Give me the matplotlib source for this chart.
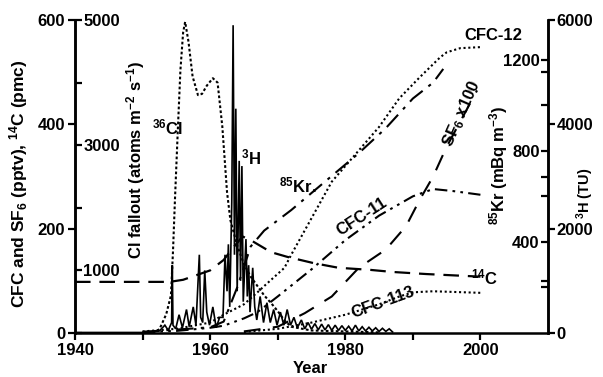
import matplotlib
matplotlib.use("Agg")
import matplotlib.pyplot as plt
from matplotlib.ticker import FixedLocator, NullFormatter

plt.rcParams['font.family'] = ['Liberation Sans', 'DejaVu Sans']
plt.rcParams['font.weight'] = 'bold'
plt.rcParams['mathtext.default'] = 'regular'

# ---------------- data ----------------
# 14C (pmc), left axis
c14_year = [1940, 1954, 1956, 1958, 1960, 1962, 1963.5, 1964.8, 1966, 1969, 1971.4, 1975.3, 1979, 1983.7, 1987, 1992, 2000]
c14_val = [98, 98, 102, 111, 120, 140, 165, 185, 178, 155, 146, 134, 125, 121, 117, 113, 108]

# CFC-12 (pptv)
cfc12_year = [1950, 1955, 1960, 1962, 1965, 1967, 1968, 1971, 1972, 1975, 1978, 1980, 1982, 1985, 1988, 1991, 1994, 1995, 1997, 2000]
cfc12_val = [3, 8, 20, 35, 55, 78, 90, 125, 150, 220, 290, 320, 350, 395, 450, 490, 528, 538, 546, 548]

# CFC-11 (pptv)
cfc11_year = [1950, 1955, 1960, 1962, 1965, 1967, 1970, 1975, 1980, 1985, 1990, 1993, 1996, 2000]
cfc11_val = [2, 4, 10, 14, 28, 40, 70, 122, 178, 225, 262, 276, 272, 265]

# CFC-113 (pptv)
cfc113_year = [1965, 1970, 1975, 1980, 1985, 1988, 1990, 1993, 2000]
cfc113_val = [2, 8, 20, 35, 55, 70, 78, 80, 77]

# SF6 x100 (pptv)
sf6_year = [1965, 1970, 1974, 1978, 1982, 1986, 1989, 1991, 1993, 1995, 1997, 1999.5]
sf6_val = [3, 12, 38, 70, 125, 160, 205, 255, 300, 357, 405, 465]

# 36Cl fallout (atoms m-2 s-1)
cl_year = [1950, 1951.5, 1952.5, 1953.5, 1954.2, 1954.5, 1954.8, 1955.2, 1955.6, 1956.0, 1956.3, 1956.8,
           1957.4, 1958.2, 1958.8, 1959.5, 1960.4, 1961.1, 1961.8, 1962.5, 1963.0, 1964.0, 1965.0,
           1966.0, 1967.0, 1968.0, 1969.0, 1970.0, 1971.0, 1972.0, 1975.0, 1985.0]
cl_val = [0, 0, 60, 300, 600, 1300, 2150, 3200, 4200, 4800, 4970, 4650,
          4100, 3800, 3820, 3950, 4070, 4000, 3300, 2250, 1800, 1400, 1100,
          900, 750, 600, 480, 350, 200, 100, 40, 10]

# 85Kr (mBq m-3)
kr_year = [1950, 1955, 1960, 1962, 1964, 1966, 1968, 1972, 1976, 1978, 1982, 1986, 1990, 1993, 1994.5]
kr_val = [5, 15, 25, 50, 200, 380, 450, 540, 640, 690, 790, 900, 1030, 1100, 1160]

# 3H in precipitation (TU)
h3_year = [1940, 1950.0, 1951.0, 1952.5, 1953.3, 1953.8, 1954.3, 1954.4, 1954.5, 1954.9, 1955.4, 1955.9,
           1956.5, 1956.9, 1957.5, 1957.9, 1958.4, 1958.6, 1958.9, 1959.2, 1959.5, 1959.9, 1960.4,
           1960.9, 1961.4, 1961.9, 1962.2, 1962.5, 1962.7, 1962.9, 1963.2, 1963.4, 1963.6, 1963.8,
           1964.0, 1964.3, 1964.5, 1964.7, 1964.9, 1965.3, 1965.5, 1965.7, 1965.9, 1966.3, 1966.6,
           1966.9, 1967.4, 1967.9, 1968.4, 1968.9, 1969.4, 1969.9, 1970.4, 1970.9, 1971.4, 1971.9,
           1972.4, 1972.9, 1973.5, 1974.0, 1974.5, 1975.0, 1975.5, 1976.0, 1976.5, 1977.0, 1977.5,
           1978.0, 1978.5, 1979.0, 1979.5, 1980.0, 1980.5, 1981.0, 1981.5, 1982.0, 1982.5, 1983.0,
           1983.5, 1984.0, 1984.5, 1985.0, 1985.5, 1986.0, 1986.5, 1987.0]
h3_val = [10, 10, 15, 40, 150, 50, 200, 1300, 150, 80, 350, 100,
          450, 120, 500, 150, 1500, 300, 200, 1200, 400, 150, 500,
          100, 300, 300, 1500, 800, 1700, 500, 2500, 5900, 1500, 4300,
          800, 3300, 1000, 3200, 600, 1800, 700, 1300, 400, 1250, 500,
          250, 700, 200, 580, 200, 450, 150, 400, 150, 450, 150,
          300, 100, 250, 80, 200, 70, 180, 60, 170, 60, 160,
          50, 150, 50, 140, 50, 130, 40, 150, 40, 120, 40,
          110, 40, 100, 30, 90, 30, 80, 20]

# axis ticks / labels
x_major = [1940, 1960, 1980, 2000]
x_minor = [1950, 1970, 1990]
left_major = [0, 200, 400, 600]
left_minor = [100, 300, 500]
cl_major = [1000, 3000, 5000]
cl_minor = [0, 2000, 4000]
kr_major = [400, 800, 1200]
kr_minor = [200, 600, 1000]
h_major = [0, 2000, 4000, 6000]
h_minor = [1000, 3000, 5000]

# ---------------- figure ----------------
fig = plt.figure(figsize=(6.03, 3.77), dpi=100)
ax = fig.add_axes([75 / 603, 1 - 333 / 377, 473 / 603, 313 / 377])
ax_cl = ax.twinx()
ax_kr = ax.twinx()
ax_h = ax.twinx()

FS = 12
LW_AX = 1.8

# primary axis
ax.set_xlim(1940, 2010)
ax.set_ylim(0, 600)
for s in ['top', 'right']:
    ax.spines[s].set_visible(False)
for s in ['left', 'bottom']:
    ax.spines[s].set_linewidth(LW_AX)
ax.xaxis.set_major_locator(FixedLocator(x_major))
ax.xaxis.set_minor_locator(FixedLocator(x_minor))
ax.yaxis.set_major_locator(FixedLocator(left_major))
ax.yaxis.set_minor_locator(FixedLocator(left_minor))
ax.tick_params(axis='both', which='major', direction='out', length=5, width=1.6, labelsize=FS, pad=2)
ax.tick_params(axis='both', which='minor', direction='out', length=5, width=1.6)
ax.tick_params(axis='y', which='minor', length=0)

# Cl axis: spine at left, ticks/labels to the right
ax_cl.set_ylim(0, 5000)
for s in ['top', 'left', 'bottom']:
    ax_cl.spines[s].set_visible(False)
ax_cl.spines['right'].set_position(('axes', 0.0))
ax_cl.spines['right'].set_linewidth(LW_AX)
ax_cl.yaxis.set_major_locator(FixedLocator(cl_major))
ax_cl.yaxis.set_minor_locator(FixedLocator(cl_minor))
ax_cl.yaxis.set_minor_formatter(NullFormatter())
ax_cl.tick_params(axis='y', which='both', direction='out', length=5, width=1.6, labelsize=FS, pad=1)

# Kr axis: spine at right, ticks/labels to the left
ax_kr.set_ylim(0, 1375)
for s in ['top', 'right', 'bottom']:
    ax_kr.spines[s].set_visible(False)
ax_kr.spines['left'].set_position(('axes', 1.0))
ax_kr.spines['left'].set_linewidth(LW_AX)
ax_kr.yaxis.set_ticks_position('left')
ax_kr.yaxis.set_major_locator(FixedLocator(kr_major))
ax_kr.yaxis.set_minor_locator(FixedLocator(kr_minor))
ax_kr.yaxis.set_minor_formatter(NullFormatter())
ax_kr.tick_params(axis='y', which='both', direction='out', length=5, width=1.6, labelsize=FS, pad=1)

# 3H axis: spine at right, ticks/labels to the right
ax_h.set_ylim(0, 6000)
for s in ['top', 'left', 'bottom']:
    ax_h.spines[s].set_visible(False)
ax_h.spines['right'].set_linewidth(LW_AX)
ax_h.yaxis.set_major_locator(FixedLocator(h_major))
ax_h.yaxis.set_minor_locator(FixedLocator(h_minor))
ax_h.yaxis.set_minor_formatter(NullFormatter())
ax_h.tick_params(axis='y', which='major', direction='out', length=5, width=1.6, labelsize=FS, pad=1)
ax_h.tick_params(axis='y', which='minor', direction='in', length=5, width=1.6)

# ---------------- series ----------------
k = 'black'
ax_h.plot(h3_year, h3_val, color=k, lw=1.2, solid_joinstyle='miter')
ax_cl.plot(cl_year, cl_val, color=k, lw=1.5, linestyle=(0, (1.3, 1.1)))
ax.plot(c14_year, c14_val, color=k, lw=1.6, linestyle=(0, (7, 4)))
ax_kr.plot(kr_year, kr_val, color=k, lw=1.5, linestyle=(0, (8, 3.5, 1.5, 3.5)))
ax.plot(cfc12_year, cfc12_val, color=k, lw=1.5, linestyle=(0, (1, 1.3)))
ax.plot(cfc11_year, cfc11_val, color=k, lw=1.5, linestyle=(0, (6, 2.5, 1.3, 2.5, 1.3, 2.5)))
ax.plot(cfc113_year, cfc113_val, color=k, lw=1.5, linestyle=(0, (1, 1.3)))
ax.plot(sf6_year, sf6_val, color=k, lw=1.5, linestyle=(0, (8, 6)))

# ---------------- annotations ----------------
tkw = dict(transform=ax.transAxes, fontsize=FS, fontweight='bold', ha='center', va='center')
ax.text(0.195, 0.658, '$^{36}$Cl', **tkw)
ax.text(0.372, 0.562, '$^{3}$H', **tkw)
ax.text(0.472, 0.473, '$^{85}$Kr.', **tkw)
ax.text(0.885, 0.952, 'CFC-12', **tkw)
ax.text(0.607, 0.372, 'CFC-11', rotation=33, **tkw)
ax.text(0.818, 0.700, 'SF$_6$ x100', rotation=66, **tkw)
ax.text(0.866, 0.179, '$^{14}$C', **tkw)
ax.text(0.652, 0.098, 'CFC-113', rotation=20, **tkw)

lkw = dict(fontweight='bold', ha='center', va='center', rotation=90)
fig.text(0.030, 0.512, 'CFC and SF$_6$ (pptv), $^{14}$C (pmc)', fontsize=12.5, **lkw)
fig.text(0.224, 0.576, 'Cl fallout (atoms m$^{-2}$ s$^{-1}$)', fontsize=12, **lkw)
fig.text(0.826, 0.560, '$^{85}$Kr (mBq m$^{-3}$)', fontsize=12, **lkw)
fig.text(0.970, 0.488, '$^{3}$H (TU)', fontsize=10.5, **lkw)
fig.text(0.514, 0.022, 'Year', fontsize=FS, fontweight='bold', ha='center', va='center')

fig.savefig('out.png', dpi=100)
